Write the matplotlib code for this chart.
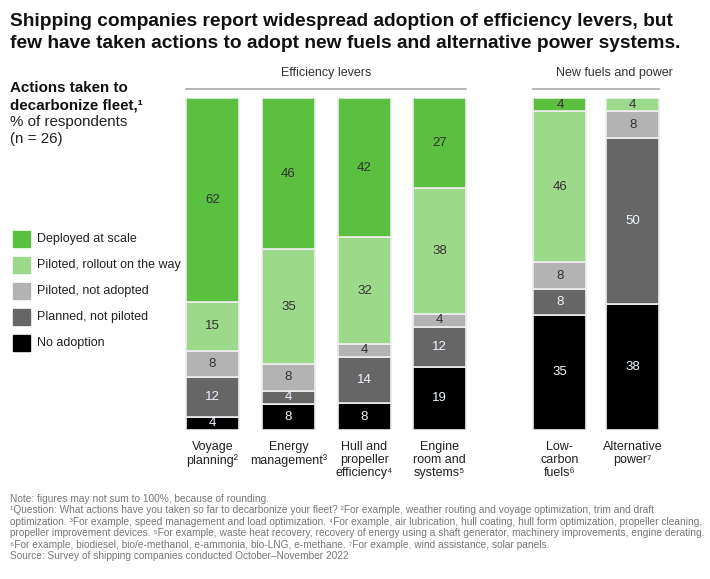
import numpy as np
import matplotlib.pyplot as plt

plt.rcParams['font.family'] = ['Liberation Sans', 'DejaVu Sans']

# Data
categories = ['Voyage\nplanning²', 'Energy\nmanagement³', 'Hull and\npropeller\nefficiency⁴',
              'Engine\nroom and\nsystems⁵', 'Low-\ncarbon\nfuels⁶', 'Alternative\npower⁷']
series = ['Deployed at scale', 'Piloted, rollout on the way', 'Piloted, not adopted',
          'Planned, not piloted', 'No adoption']
no_adoption = [4, 8, 8, 19, 35, 38]
planned = [12, 4, 14, 12, 8, 50]
piloted_not = [8, 8, 4, 4, 8, 8]
piloted_rollout = [15, 35, 32, 38, 46, 4]
deployed = [62, 46, 42, 27, 4, 0]

colors = ['#5bbf40', '#9dd98b', '#b3b3b3', '#666666', '#000000']
text_colors = ['#333333', '#333333', '#333333', '#eef4ff', '#eef4ff']

W, H = 710, 579
fig = plt.figure(figsize=(W / 100, H / 100), dpi=100)


def fx(px):
    return px / W


def fy(py):
    return 1 - py / H


ax = fig.add_axes([fx(170), fy(430), fx(510), 332 / H])
xpos = np.array([0, 1, 2, 2.99, 4.57, 5.53])
stack = [no_adoption, planned, piloted_not, piloted_rollout, deployed]
stack_colors = colors[::-1]
stack_text = text_colors[::-1]
totals = np.sum(np.array(stack), axis=0)
bottom = np.zeros(len(xpos))
for vals, c, tc in zip(stack, stack_colors, stack_text):
    vals = np.array(vals, dtype=float)
    h = vals / totals * 100
    ax.bar(xpos, h, bottom=bottom, width=0.70, color=c, edgecolor='#eeeeee', linewidth=1.2)
    for x, v, hh, b in zip(xpos, vals, h, bottom):
        if v > 0:
            ax.text(x, b + hh / 2, f'{int(v)}', ha='center', va='center', fontsize=9.5, color=tc)
    bottom += h

ax.set_xlim(-0.559, 6.15)
ax.set_ylim(0, 100)
ax.axis('off')

# Category labels
for x, lab in zip(xpos, categories):
    xp = 170 + (x + 0.559) * 76
    fig.text(fx(xp), fy(441), lab, ha='center', va='top', fontsize=9, color='#222222',
             linespacing=1.1)

# Group headers
fig.text(fx(326), fy(73), 'Efficiency levers', ha='center', va='center', fontsize=9, color='#333333')
fig.text(fx(614), fy(73), 'New fuels and power', ha='center', va='center', fontsize=9, color='#333333')
fig.add_artist(plt.Line2D([fx(186), fx(466)], [fy(89), fy(89)], color='#aaaaaa', lw=1.2))
fig.add_artist(plt.Line2D([fx(533), fx(659)], [fy(89), fy(89)], color='#aaaaaa', lw=1.2))

# Title
fig.text(fx(10), fy(21), 'Shipping companies report widespread adoption of efficiency levers, but',
         ha='left', va='center', fontsize=13.8, fontweight='bold', color='#111111')
fig.text(fx(10), fy(44), 'few have taken actions to adopt new fuels and alternative power systems.',
         ha='left', va='center', fontsize=13.8, fontweight='bold', color='#111111')

# Left annotation
fig.text(fx(10), fy(88), 'Actions taken to', ha='left', va='center', fontsize=10.9,
         fontweight='bold', color='#111111')
fig.text(fx(10), fy(105), 'decarbonize fleet,¹', ha='left', va='center', fontsize=10.9,
         fontweight='bold', color='#111111')
fig.text(fx(10), fy(122), '% of respondents', ha='left', va='center', fontsize=10.9, color='#222222')
fig.text(fx(10), fy(139), '(n = 26)', ha='left', va='center', fontsize=10.9, color='#222222')

# Legend
for i, (s, c) in enumerate(zip(series, colors)):
    yc = 239 + i * 26
    fig.add_artist(plt.Rectangle((fx(13), fy(yc + 8)), fx(17), 16 / H, color=c,
                                 transform=fig.transFigure))
    fig.text(fx(37), fy(yc), s, ha='left', va='center', fontsize=9, color='#222222')

# Footnotes
notes = [
    'Note: figures may not sum to 100%, because of rounding.',
    '¹Question: What actions have you taken so far to decarbonize your fleet? ²For example, weather routing and voyage optimization, trim and draft',
    'optimization. ³For example, speed management and load optimization. ⁴For example, air lubrication, hull coating, hull form optimization, propeller cleaning,',
    'propeller improvement devices. ⁵For example, waste heat recovery, recovery of energy using a shaft generator, machinery improvements, engine derating.',
    '⁶For example, biodiesel, bio/e-methanol, e-ammonia, bio-LNG, e-methane. ⁷For example, wind assistance, solar panels.',
    'Source: Survey of shipping companies conducted October–November 2022',
]
for i, n in enumerate(notes):
    fig.text(fx(10), fy(499 + i * 11.4), n, ha='left', va='center', fontsize=7.3, color='#777777')

fig.savefig('out.png', dpi=100)
